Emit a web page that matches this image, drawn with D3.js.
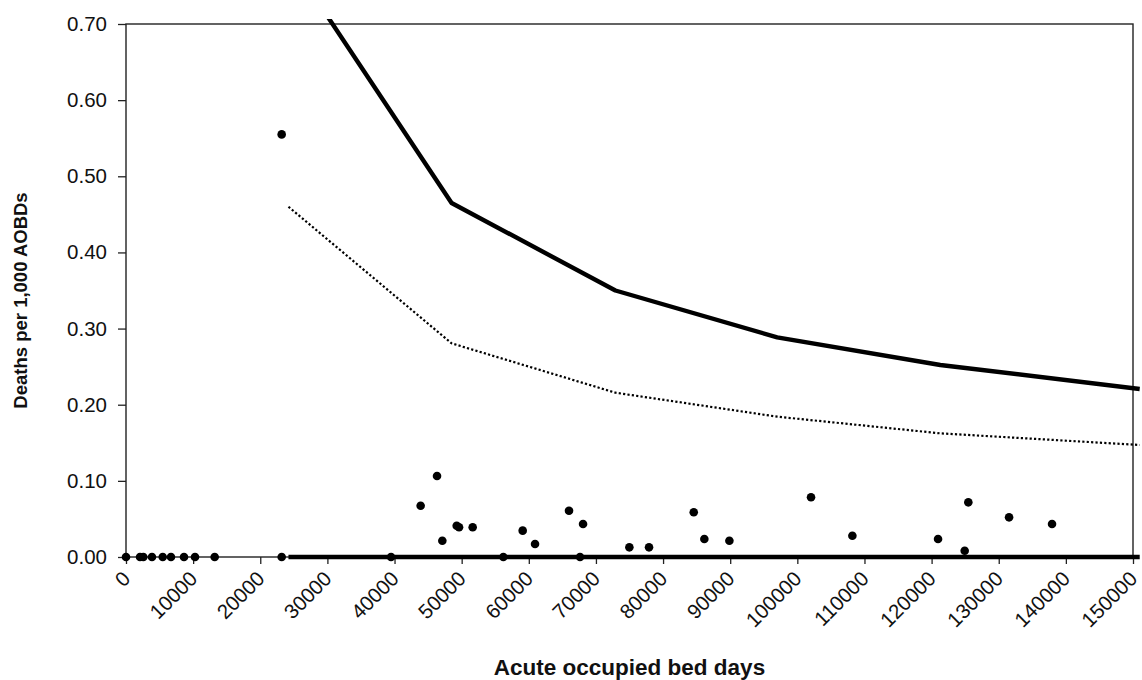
<!DOCTYPE html>
<html>
<head>
<meta charset="utf-8">
<script src="https://cdn.jsdelivr.net/npm/d3@7"></script>
<style>
  html, body { margin: 0; padding: 0; background: #fff; }
  svg { display: block; font-family: "Liberation Sans", Arial, sans-serif; }
</style>
</head>
<body>
<svg id="chart" width="1142" height="680"></svg>
<script>
// Hospitals: acute occupied bed days vs deaths per 1,000 AOBDs
const hospitalBedDays = [
  0, 2090, 2580, 3870, 5470, 6700, 8640, 10280, 13210, 23190,
  23190, 39480, 43890, 46330, 47120, 49260, 49610, 51640, 56210, 59090,
  60930, 65990, 67630, 68080, 74980, 77910, 84570, 86150, 89880, 102040,
  108200, 120960, 124930, 125470, 131540, 137940
];
const hospitalRates = [
  0, 0, 0, 0, 0, 0, 0, 0, 0, 0,
  0.555, 0, 0.0674, 0.1064, 0.0214, 0.0411, 0.0390, 0.0390, 0, 0.0346,
  0.0171, 0.0608, 0, 0.0433, 0.0127, 0.0127, 0.0587, 0.0236, 0.0214, 0.0784,
  0.0280, 0.0236, 0.0083, 0.0718, 0.0521, 0.0433
];

// Funnel limits
const limitBedDays   = [24200, 48500, 72900, 97000, 121300, 151000];
const upperLimit     = [0.787, 0.465, 0.350, 0.2885, 0.2522, 0.2207];
const warningLimit   = [0.460, 0.2806, 0.2158, 0.1843, 0.1624, 0.1471];
const lowerLimit     = [0, 0, 0, 0, 0, 0];

const xTicks = [0, 10000, 20000, 30000, 40000, 50000, 60000, 70000, 80000,
                90000, 100000, 110000, 120000, 130000, 140000, 150000];
const yTicks = [0, 0.1, 0.2, 0.3, 0.4, 0.5, 0.6, 0.7];

const xTitle = "Acute occupied bed days";
const yTitle = "Deaths per 1,000 AOBDs";

const svg = d3.select("#chart");
const plotLeft = 126, plotRight = 1133, plotTop = 24, plotBottom = 557;

const x = d3.scaleLinear().domain([0, 150000]).range([plotLeft, plotRight]);
const y = d3.scaleLinear().domain([0, 0.7]).range([plotBottom, plotTop]);

const axisColor = "#222";

// clip lines to the plotting area (lines may run slightly past the right border)
svg.append("defs").append("clipPath").attr("id", "plotClip")
  .append("rect").attr("x", plotLeft).attr("y", plotTop - 5)
  .attr("width", 1142 - plotLeft).attr("height", plotBottom - plotTop + 12);

// Y axis
const yAxis = svg.append("g")
  .attr("transform", `translate(${plotLeft},0)`)
  .call(d3.axisLeft(y).tickValues(yTicks).tickFormat(d3.format(".2f")).tickSize(8).tickPadding(11));
yAxis.select(".domain").remove();
yAxis.selectAll(".tick line").attr("stroke", axisColor).attr("stroke-width", 1.3);
yAxis.selectAll(".tick text")
  .attr("font-size", 20.5).attr("fill", "#111")
  .attr("font-family", "Liberation Sans, Arial, sans-serif");

// X axis
const xAxis = svg.append("g")
  .attr("transform", `translate(0,${plotBottom})`)
  .call(d3.axisBottom(x).tickValues(xTicks).tickFormat(d3.format("d")).tickSize(7));
xAxis.select(".domain").remove();
xAxis.selectAll(".tick line").attr("stroke", axisColor).attr("stroke-width", 1.3);
xAxis.selectAll(".tick text")
  .attr("font-size", 20.5).attr("fill", "#111")
  .attr("font-family", "Liberation Sans, Arial, sans-serif")
  .attr("text-anchor", "end")
  .attr("y", 0).attr("dy", 0)
  .attr("transform", "translate(5,23) rotate(-45)");

// Plot frame
svg.append("rect")
  .attr("x", plotLeft).attr("y", plotTop)
  .attr("width", plotRight - plotLeft).attr("height", plotBottom - plotTop)
  .attr("fill", "none").attr("stroke", axisColor).attr("stroke-width", 1.4);

// Limit lines
const line = d3.line().x(d => x(d[0])).y(d => y(d[1]));
const limits = svg.append("g").attr("clip-path", "url(#plotClip)");

limits.append("path")
  .datum(limitBedDays.map((d, i) => [d, upperLimit[i]]))
  .attr("d", line).attr("fill", "none")
  .attr("stroke", "#000").attr("stroke-width", 4.4).attr("stroke-linejoin", "round");

limits.append("path")
  .datum(limitBedDays.map((d, i) => [d, warningLimit[i]]))
  .attr("d", line).attr("fill", "none")
  .attr("stroke", "#000").attr("stroke-width", 2.2).attr("stroke-dasharray", "2.2,2.2");

limits.append("path")
  .datum(limitBedDays.map((d, i) => [d, lowerLimit[i]]))
  .attr("d", line).attr("fill", "none")
  .attr("stroke", "#000").attr("stroke-width", 4.4);

// Hospital points
svg.append("g").selectAll("circle")
  .data(hospitalBedDays.map((d, i) => [d, hospitalRates[i]]))
  .join("circle")
  .attr("cx", d => x(d[0])).attr("cy", d => y(d[1]))
  .attr("r", 4.3).attr("fill", "#000");

// Axis titles
svg.append("text")
  .attr("x", (plotLeft + plotRight) / 2).attr("y", 675)
  .attr("text-anchor", "middle")
  .attr("font-size", 22.5).attr("font-weight", "bold").attr("fill", "#111")
  .text(xTitle);

svg.append("text")
  .attr("transform", `translate(27,${(plotTop + plotBottom) / 2 + 10}) rotate(-90)`)
  .attr("text-anchor", "middle")
  .attr("font-size", 18.5).attr("font-weight", "bold").attr("fill", "#111")
  .text(yTitle);
</script>
</body>
</html>
